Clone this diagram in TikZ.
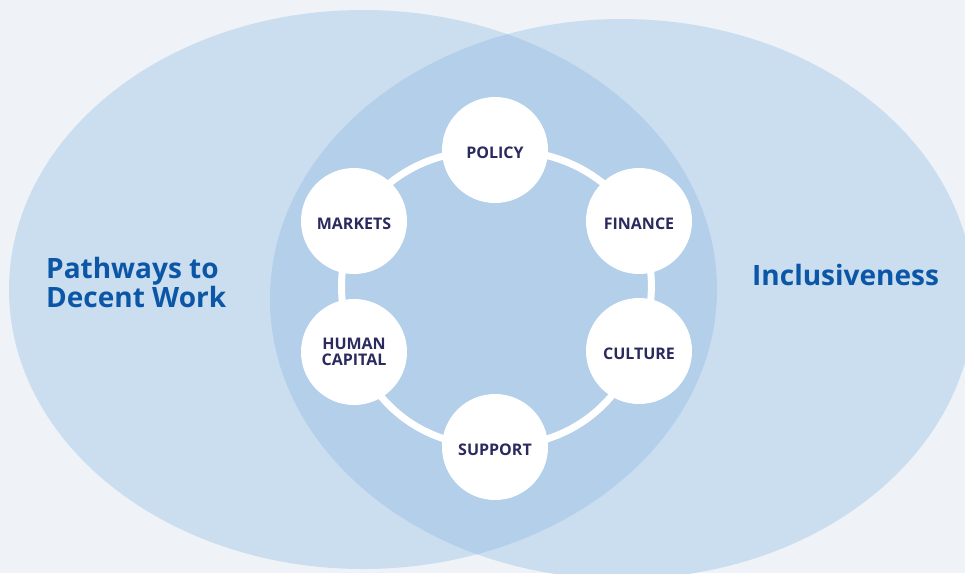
\documentclass[tikz,border=0pt]{standalone}
\usepackage{fontspec}
\setmainfont{Open Sans}
\definecolor{bgcol}{HTML}{EFF3F7}
\definecolor{ellcol}{HTML}{CBDEEF}
\definecolor{overcol}{HTML}{B4CFE9}
\definecolor{navy}{HTML}{2A2A5E}
\definecolor{titleblue}{HTML}{0B56A6}
\pgfdeclarelayer{bglayer}
\pgfdeclarelayer{ringlayer}
\pgfsetlayers{bglayer,ringlayer,main}
\tikzset{
  pillar/.style={circle, fill=white, minimum size=106pt, inner sep=0pt,
    font=\fontsize{16}{16}\selectfont\bfseries, text=navy, align=center},
  onel/.style={text height=17pt, text depth=0pt},
  ringlink/.style={draw=white, line width=7pt},
  title/.style={font=\fontsize{28}{29.7}\selectfont\bfseries, text=titleblue, inner sep=0pt, align=left}
}
\begin{document}
\begin{tikzpicture}[x=1pt,y=-1pt]
\useasboundingbox (0,0) rectangle (965,573);
\begin{pgfonlayer}{bglayer}
  \fill[bgcol] (0,0) rectangle (965,573);
  \fill[ellcol] (363,289.5) ellipse [x radius=354, y radius=279.5];
  \fill[ellcol] (622,299) ellipse [x radius=352, y radius=280];
  \begin{scope}
    \clip (363,289.5) ellipse [x radius=354, y radius=279.5];
    \fill[overcol] (622,299) ellipse [x radius=352, y radius=280];
  \end{scope}
\end{pgfonlayer}

\node[pillar,onel] (policy)  at (495,150) {POLICY};
\node[pillar,onel] (finance) at (639,221) {FINANCE};
\node[pillar,onel] (culture) at (639,351) {CULTURE};
\node[pillar,onel] (support) at (495,447) {SUPPORT};
\node[pillar] (human)   at (354,352) {HUMAN\\CAPITAL};
\node[pillar,onel] (markets) at (354,221) {MARKETS};

\begin{pgfonlayer}{ringlayer}
  \draw[ringlink] (policy.center)  to[bend left=27] (finance.center);
  \draw[ringlink] (finance.center) to[bend left=19] (culture.center);
  \draw[ringlink] (culture.center) to[bend left=33] (support.center);
  \draw[ringlink] (support.center) to[bend left=33] (human.center);
  \draw[ringlink] (human.center)   to[bend left=19] (markets.center);
  \draw[ringlink] (markets.center) to[bend left=27] (policy.center);
\end{pgfonlayer}

\node[title, anchor=west] (pathways) at (46,282.5) {Pathways to\\Decent Work};
\node[title, anchor=base west] (inclusive) at (752,285) {Inclusiveness};
\end{tikzpicture}
\end{document}
